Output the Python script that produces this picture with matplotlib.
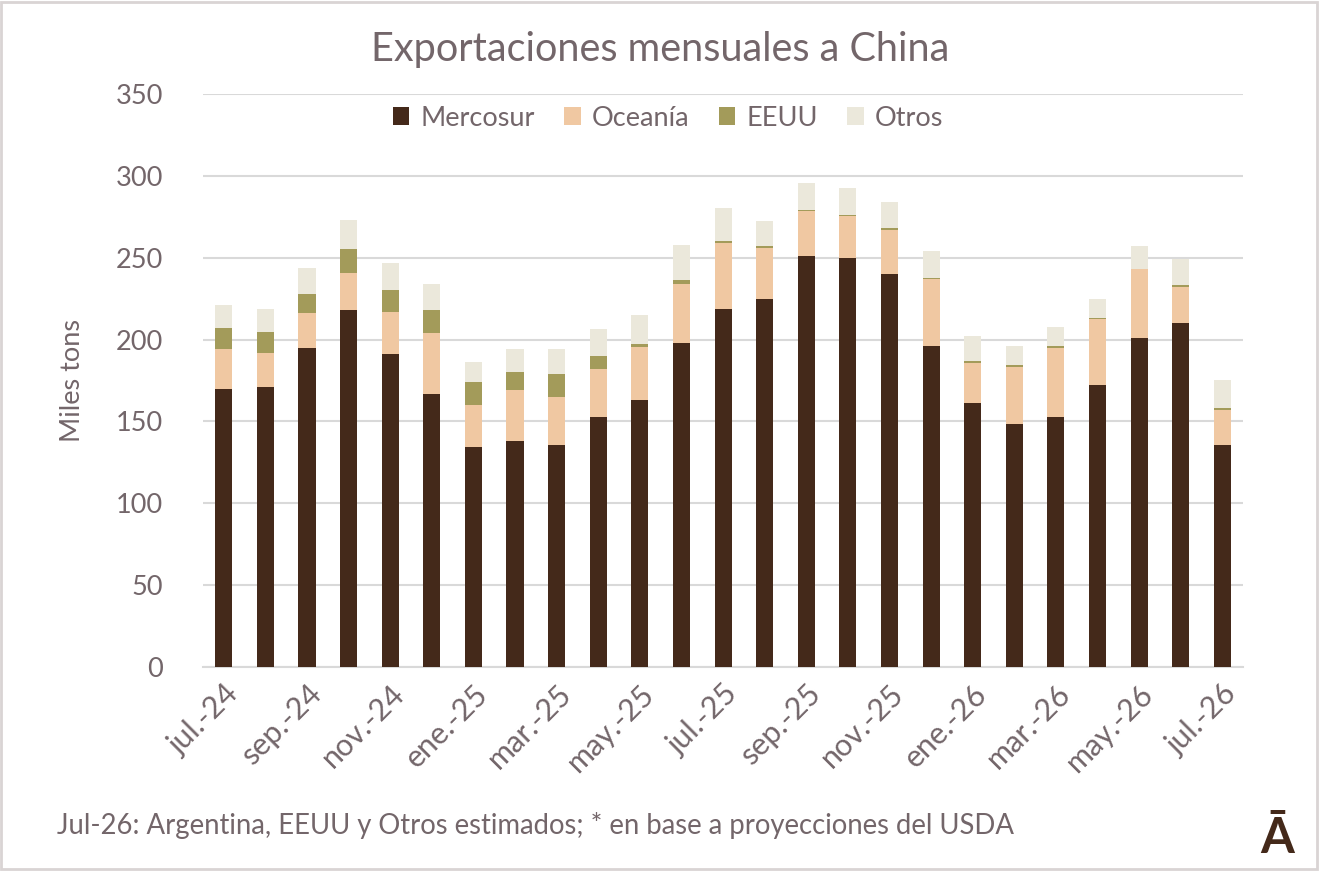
import numpy as np
import matplotlib.pyplot as plt
from matplotlib.patches import Rectangle

plt.rcParams['font.family'] = ['Lato', 'DejaVu Sans']

meses = ['jul.-24', 'ago.-24', 'sep.-24', 'oct.-24', 'nov.-24', 'dic.-24',
         'ene.-25', 'feb.-25', 'mar.-25', 'abr.-25', 'may.-25', 'jun.-25',
         'jul.-25', 'ago.-25', 'sep.-25', 'oct.-25', 'nov.-25', 'dic.-25',
         'ene.-26', 'feb.-26', 'mar.-26', 'abr.-26', 'may.-26', 'jun.-26',
         'jul.-26']

mercosur = [170, 171, 195, 218, 191, 167, 134.5, 138, 135.6, 153, 163, 198,
            219, 225, 251, 250, 240, 196, 161, 148.5, 153, 172, 201, 210, 135.5]
oceania = [24, 21, 21, 22.5, 26, 37, 25.5, 31, 29.3, 29, 32.6, 36,
           40, 31, 27.5, 25.5, 27, 41, 25, 35, 42, 40.5, 42, 22, 21.4]
eeuu = [13, 12.6, 12, 15, 13.5, 14, 14, 11.5, 14.3, 8, 1.8, 2.6,
        1, 1, 0.6, 0.8, 1, 0.8, 0.8, 0.8, 0.8, 1, 0.3, 1.5, 1.2]
otros = [14, 14, 16, 17.5, 16, 16, 12.5, 13.7, 14.9, 16.5, 17.7, 21,
         20.6, 15.5, 16.5, 16.3, 16, 16.6, 15.3, 12, 12, 11.5, 13.7, 15.6, 17]

series = [('Mercosur', mercosur, '#44291a'),
          ('Oceanía', oceania, '#f0c8a2'),
          ('EEUU', eeuu, '#a39b5a'),
          ('Otros', otros, '#ebe8db')]

txt = '#73666a'

fig = plt.figure(figsize=(13.2, 8.71), dpi=100)
ax = fig.add_axes([0.1538, 0.2342, 0.7879, 0.6578])

x = np.arange(len(meses))
base = np.zeros(len(meses))
for nombre, vals, col in series:
    vals = np.array(vals)
    ax.bar(x, vals, bottom=base, width=0.41, color=col, label=nombre, zorder=3)
    base += vals

ax.set_xlim(-0.5, len(meses) - 0.5)
ax.set_ylim(0, 350)
ax.set_yticks(np.arange(0, 351, 50))
ax.yaxis.grid(True, color='#d9d9d9', linewidth=1.5, zorder=0)
for s in ['top', 'right', 'left']:
    ax.spines[s].set_visible(False)
ax.spines['bottom'].set_color('#d9d9d9')
ax.spines['bottom'].set_linewidth(1.5)
ax.tick_params(axis='both', length=0, labelcolor=txt)
ax.tick_params(axis='y', pad=29, labelsize=19.5)
ax.set_xticks(x[::2])
ax.set_xticklabels(meses[::2], rotation=45, ha='right', rotation_mode='anchor')
ax.tick_params(axis='x', pad=9, labelsize=22)
ax.set_ylabel('Miles tons', fontsize=19.5, color=txt, labelpad=22)

fig.legend(*ax.get_legend_handles_labels(), loc='center',
           bbox_to_anchor=(668 / 1320, 1 - 118 / 871), ncol=4, frameon=False,
           fontsize=19.5, labelcolor=txt, handlelength=0.6, handleheight=0.6,
           handletextpad=0.4, columnspacing=1.1)

fig.text(0.5, 0.943, 'Exportaciones mensuales a China', ha='center', va='center',
         fontsize=28.5, color=txt)
fig.text(0.043, 0.052, 'Jul-26: Argentina, EEUU y Otros estimados; * en base a proyecciones del USDA',
         ha='left', va='center', fontsize=19.8, color=txt)
fig.text(0.9675, 1 - 853 / 871, 'Ā', ha='center', va='baseline', fontsize=35,
         color='#44291a', fontweight='bold')

fig.patches.append(Rectangle((0.001, 0.002), 0.997, 0.996, transform=fig.transFigure,
                             fill=False, edgecolor='#d9d4d4', linewidth=2))

fig.savefig('out.png', dpi=100)
